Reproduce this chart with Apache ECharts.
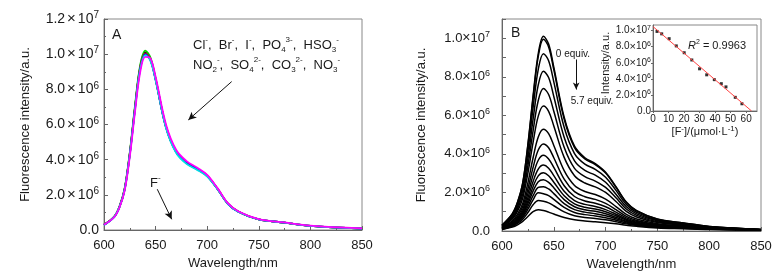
<!DOCTYPE html>
<html>
<head>
<meta charset="utf-8">
<script src="https://cdn.jsdelivr.net/npm/echarts@6/dist/echarts.min.js"></script>
<style>
  html, body { margin: 0; padding: 0; background: #fff; }
  #chart { width: 784px; height: 279px; }
</style>
</head>
<body>
<div id="chart"></div>
<script>
  // wavelength grid (nm), shared by every spectrum
  var wl = [600, 610, 615, 620, 625, 630, 635, 640, 645, 650, 660, 670, 680, 690, 700, 710, 720, 730, 750, 775, 800, 850];

  // panel A: probe + different anions (units of 1e6)
  var aBlack   = [0.30, 0.76, 1.32, 2.32, 4.35, 6.95, 9.25, 10.10, 9.72, 8.58, 5.88, 4.44, 3.84, 3.49, 3.08, 2.34, 1.50, 1.05, 0.60, 0.42, 0.24, 0.08];
  var aGreen   = [0.30, 0.77, 1.34, 2.36, 4.42, 7.05, 9.35, 10.20, 9.80, 8.62, 5.90, 4.45, 3.84, 3.49, 3.08, 2.34, 1.50, 1.05, 0.60, 0.42, 0.24, 0.08];
  var aRed     = [0.30, 0.76, 1.32, 2.32, 4.34, 6.93, 9.22, 10.05, 9.70, 8.57, 5.87, 4.44, 3.84, 3.49, 3.08, 2.34, 1.50, 1.05, 0.60, 0.42, 0.24, 0.08];
  var aBlue    = [0.29, 0.75, 1.31, 2.30, 4.30, 6.88, 9.15, 10.00, 9.66, 8.55, 5.86, 4.42, 3.80, 3.46, 3.06, 2.33, 1.49, 1.04, 0.60, 0.42, 0.24, 0.08];
  var aCyan    = [0.29, 0.75, 1.30, 2.29, 4.28, 6.85, 9.12, 9.95, 9.62, 8.52, 5.82, 4.38, 3.76, 3.43, 3.04, 2.32, 1.49, 1.04, 0.60, 0.42, 0.24, 0.08];
  var aMagenta = [0.30, 0.74, 1.28, 2.24, 4.18, 6.70, 8.95, 9.85, 9.76, 8.72, 6.02, 4.55, 3.92, 3.56, 3.14, 2.38, 1.53, 1.07, 0.62, 0.43, 0.25, 0.09];

  // panel B: titration with F- from 0 to 5.7 equiv. (units of 1e6)
  var b01 = [0.30, 0.90, 1.50, 2.50, 4.50, 7.00, 9.20, 10.10, 9.70, 8.50, 5.90, 4.40, 3.80, 3.50, 3.05, 2.30, 1.50, 1.05, 0.62, 0.42, 0.24, 0.08];
  var b02 = [0.30, 0.89, 1.48, 2.47, 4.44, 6.90, 9.06, 9.95, 9.55, 8.37, 5.81, 4.33, 3.74, 3.45, 3.01, 2.27, 1.48, 1.04, 0.61, 0.42, 0.24, 0.08];
  var b03 = [0.28, 0.83, 1.38, 2.30, 4.13, 6.40, 8.39, 9.20, 8.83, 7.74, 5.38, 4.02, 3.47, 3.20, 2.79, 2.11, 1.38, 0.97, 0.57, 0.39, 0.22, 0.08];
  var b04 = [0.26, 0.76, 1.26, 2.10, 3.75, 5.80, 7.58, 8.29, 7.96, 6.98, 4.86, 3.64, 3.14, 2.90, 2.53, 1.91, 1.26, 0.89, 0.53, 0.36, 0.21, 0.07];
  var b05 = [0.23, 0.69, 1.15, 1.90, 3.38, 5.20, 6.77, 7.39, 7.08, 6.21, 4.34, 3.25, 2.82, 2.59, 2.26, 1.72, 1.14, 0.81, 0.48, 0.33, 0.19, 0.07];
  var b06 = [0.21, 0.62, 1.03, 1.70, 3.00, 4.60, 5.96, 6.48, 6.21, 5.45, 3.82, 2.87, 2.49, 2.29, 2.00, 1.53, 1.02, 0.73, 0.44, 0.30, 0.18, 0.07];
  var b07 = [0.18, 0.53, 0.87, 1.43, 2.50, 3.80, 4.88, 5.28, 5.05, 4.44, 3.13, 2.36, 2.05, 1.89, 1.65, 1.27, 0.86, 0.62, 0.38, 0.26, 0.16, 0.06];
  var b08 = [0.16, 0.47, 0.77, 1.27, 2.19, 3.30, 4.20, 4.52, 4.32, 3.80, 2.69, 2.04, 1.78, 1.64, 1.43, 1.11, 0.76, 0.55, 0.34, 0.24, 0.14, 0.06];
  var b09 = [0.15, 0.42, 0.69, 1.13, 1.94, 2.90, 3.67, 3.93, 3.74, 3.30, 2.35, 1.79, 1.56, 1.44, 1.26, 0.98, 0.68, 0.50, 0.31, 0.22, 0.13, 0.06];
  var b10 = [0.14, 0.38, 0.63, 1.02, 1.73, 2.57, 3.21, 3.42, 3.26, 2.87, 2.06, 1.58, 1.38, 1.27, 1.11, 0.87, 0.61, 0.45, 0.28, 0.20, 0.12, 0.06];
  var b11 = [0.13, 0.35, 0.58, 0.93, 1.56, 2.30, 2.86, 3.02, 2.87, 2.53, 1.83, 1.41, 1.23, 1.14, 1.00, 0.79, 0.56, 0.42, 0.26, 0.19, 0.12, 0.06];
  var b12 = [0.12, 0.33, 0.53, 0.86, 1.42, 2.07, 2.56, 2.66, 2.52, 2.24, 1.63, 1.26, 1.10, 1.02, 0.90, 0.71, 0.51, 0.38, 0.24, 0.17, 0.11, 0.06];
  var b13 = [0.11, 0.30, 0.48, 0.78, 1.27, 1.83, 2.26, 2.30, 2.18, 1.94, 1.42, 1.11, 0.98, 0.90, 0.79, 0.64, 0.47, 0.35, 0.22, 0.16, 0.10, 0.05];
  var b14 = [0.10, 0.27, 0.44, 0.70, 1.13, 1.62, 1.98, 1.93, 1.84, 1.64, 1.22, 0.96, 0.85, 0.78, 0.69, 0.56, 0.42, 0.32, 0.21, 0.15, 0.10, 0.05];
  var b15 = [0.09, 0.24, 0.39, 0.61, 0.96, 1.36, 1.58, 1.54, 1.46, 1.31, 0.99, 0.79, 0.70, 0.65, 0.58, 0.48, 0.37, 0.29, 0.19, 0.14, 0.09, 0.05];
  var b16 = [0.08, 0.20, 0.32, 0.50, 0.75, 1.00, 1.10, 1.06, 0.98, 0.88, 0.70, 0.58, 0.52, 0.48, 0.43, 0.37, 0.30, 0.24, 0.16, 0.12, 0.08, 0.05];

  // inset: peak intensity vs [F-] (umol/L), intensity in 1e6
  var fConc = [2.6, 5.6, 10.4, 15.0, 20.1, 25.0, 30.0, 34.6, 39.5, 44.0, 47.0, 53.0, 57.3];
  var fInt  = [9.9, 9.6, 9.0, 8.1, 7.25, 6.35, 5.25, 4.5, 3.9, 3.4, 3.0, 1.7, 0.9];
  var fitX  = [0, 63.5];
  var fitY  = [10.5, 0];

  var FONT = 'Liberation Sans';
  var AXIS_COLOR = '#666';
  var TEXT_COLOR = '#1a1a1a';

  function pairs(xs, ys) {
    return xs.map(function (x, i) { return [x, ys[i]]; });
  }

  // "2.0×10^6" style labels, values are in 1e6
  function sciLabel(v) {
    if (Math.abs(v) < 1e-9) return '{m|0.0}';
    if (Math.round(v) % 2 !== 0) return '';
    if (v >= 10) return '{m|' + (v / 10).toFixed(1) + '}{x|×}{m|10}{e|7}';
    return '{m|' + v.toFixed(1) + '}{x|×}{m|10}{e|6}';
  }

  function sciRich(size, pad) {
    return {
      m: { fontSize: size, fontFamily: FONT, color: TEXT_COLOR, lineHeight: size + 3 },
      x: { fontSize: size + 1, fontFamily: FONT, color: TEXT_COLOR, lineHeight: size + 3, padding: [0, pad, 0, pad] },
      e: { fontSize: Math.round(size * 0.72), fontFamily: FONT, color: TEXT_COLOR, verticalAlign: 'top', lineHeight: Math.round(size * 0.72) }
    };
  }

  function xAxisCfg(gridIndex, name, min, max, interval, fontSize, nameGap, labelMargin) {
    return {
      type: 'value', gridIndex: gridIndex, min: min, max: max, interval: interval,
      name: name, nameLocation: 'middle', nameGap: nameGap,
      nameTextStyle: { fontFamily: FONT, fontSize: fontSize, color: TEXT_COLOR },
      axisLine: { show: true, lineStyle: { color: AXIS_COLOR, width: 1 } },
      axisTick: { show: true, inside: true, length: 4, lineStyle: { color: AXIS_COLOR } },
      minorTick: { show: true, splitNumber: 2, length: 2, lineStyle: { color: AXIS_COLOR } },
      axisLabel: { fontFamily: FONT, fontSize: fontSize, color: TEXT_COLOR, margin: labelMargin, showMaxLabel: max % interval === 0 },
      splitLine: { show: false }, minorSplitLine: { show: false }
    };
  }

  function yAxisCfg(gridIndex, name, max, interval, fontSize, pad, nameGap, labelMargin, minor) {
    return {
      type: 'value', gridIndex: gridIndex, min: 0, max: max, interval: interval,
      name: name, nameLocation: 'middle', nameGap: nameGap,
      nameTextStyle: { fontFamily: FONT, fontSize: 13, color: TEXT_COLOR },
      axisLine: { show: true, lineStyle: { color: AXIS_COLOR, width: 1 } },
      axisTick: { show: true, inside: true, length: 4, lineStyle: { color: AXIS_COLOR } },
      minorTick: { show: minor, splitNumber: 2, length: 2, lineStyle: { color: AXIS_COLOR } },
      axisLabel: { formatter: sciLabel, rich: sciRich(fontSize, pad), margin: labelMargin, showMaxLabel: Math.abs(max / interval - Math.round(max / interval)) < 1e-9 },
      splitLine: { show: false }, minorSplitLine: { show: false }
    };
  }

  var series = [];

  // panel A curves, magenta last so it sits on top
  var aCurves = [
    [aBlack, '#000000'], [aGreen, '#00d000'], [aRed, '#ff0000'],
    [aBlue, '#0000ff'], [aCyan, '#00e0e0'], [aMagenta, '#ff00ff']
  ];
  aCurves.forEach(function (c) {
    series.push({
      type: 'line', xAxisIndex: 0, yAxisIndex: 0, data: pairs(wl, c[0]),
      smooth: 0.35, showSymbol: false, silent: true,
      lineStyle: { color: c[1], width: 1.8 }
    });
  });

  // arrows in panel A
  series.push({
    type: 'line', xAxisIndex: 0, yAxisIndex: 0, data: [], silent: true,
    markLine: {
      silent: true, symbol: ['none', 'arrow'], symbolSize: [6, 8],
      label: { show: false },
      lineStyle: { color: '#111', width: 1, type: 'solid' },
      data: [
        [{ coord: [723.7, 8.44] }, { coord: [681.7, 6.26] }],
        [{ coord: [651.6, 2.32] }, { coord: [665.6, 0.61] }]
      ]
    }
  });

  // panel B curves
  [b01, b02, b03, b04, b05, b06, b07, b08, b09, b10, b11, b12, b13, b14, b15, b16].forEach(function (arr) {
    series.push({
      type: 'line', xAxisIndex: 1, yAxisIndex: 1, data: pairs(wl, arr),
      smooth: 0.35, showSymbol: false, silent: true,
      lineStyle: { color: '#000', width: 1.5 }
    });
  });

  // arrow 0 -> 5.7 equiv.
  series.push({
    type: 'line', xAxisIndex: 1, yAxisIndex: 1, data: [], silent: true,
    markLine: {
      silent: true, symbol: ['none', 'arrow'], symbolSize: [5, 7],
      label: { show: false },
      lineStyle: { color: '#111', width: 1, type: 'solid' },
      data: [[{ coord: [671.6, 8.9] }, { coord: [671.6, 7.34] }]]
    }
  });

  // inset
  series.push({
    type: 'line', xAxisIndex: 2, yAxisIndex: 2, data: pairs(fitX, fitY),
    showSymbol: false, silent: true, lineStyle: { color: '#ff4040', width: 1 }
  });
  series.push({
    type: 'scatter', xAxisIndex: 2, yAxisIndex: 2, data: pairs(fConc, fInt),
    symbol: 'rect', symbolSize: 3, silent: true, itemStyle: { color: '#000' }
  });

  var gridBase = { show: true, borderColor: '#888', borderWidth: 1, backgroundColor: 'transparent', containLabel: false, outerBoundsMode: 'none' };

  var option = {
    backgroundColor: '#fff',
    animation: false,
    grid: [
      Object.assign({ left: 104, top: 19, width: 258, height: 211 }, gridBase),
      Object.assign({ left: 502, top: 19, width: 259, height: 212 }, gridBase),
      Object.assign({ left: 653, top: 25, width: 104, height: 86 }, gridBase, { backgroundColor: '#fff' })
    ],
    xAxis: [
      xAxisCfg(0, 'Wavelength/nm', 600, 850, 50, 13, 26, 9),
      xAxisCfg(1, 'Wavelength/nm', 600, 850, 50, 13, 26, 9),
      Object.assign(xAxisCfg(2, '', 0, 67, 10, 10, 14, 3), {
        name: '{n|[F}{s|-}{n|]/(μmol·L}{s|-1}{n|)}',
        nameTextStyle: {
          fontFamily: FONT, fontSize: 11, color: TEXT_COLOR,
          rich: {
            n: { fontFamily: FONT, fontSize: 11, color: TEXT_COLOR, lineHeight: 13 },
            s: { fontFamily: FONT, fontSize: 8, color: TEXT_COLOR, verticalAlign: 'top', lineHeight: 7 }
          }
        },
        minorTick: { show: false },
        axisTick: { show: true, inside: false, length: 2, lineStyle: { color: AXIS_COLOR } }
      })
    ],
    yAxis: [
      yAxisCfg(0, 'Fluorescence intensity/a.u.', 12, 2, 14, 2, 72, 5, true),
      yAxisCfg(1, 'Fluorescence intensity/a.u.', 11, 1, 13, 0, 74, 12, false),
      Object.assign(yAxisCfg(2, '', 10.7, 2, 10, 0, 40, 2, false), {
        axisTick: { show: true, inside: false, length: 2, lineStyle: { color: AXIS_COLOR } }
      })
    ],
    series: series,
    graphic: [
      { type: 'text', x: 112, y: 35, silent: true,
        style: { text: 'A', fontFamily: FONT, fontSize: 14, fill: TEXT_COLOR, verticalAlign: 'middle' } },
      { type: 'text', x: 511, y: 33, silent: true,
        style: { text: 'B', fontFamily: FONT, fontSize: 14, fill: TEXT_COLOR, verticalAlign: 'middle' } },
      // inset y-axis title
      { type: 'text', x: 606, y: 63, rotation: Math.PI / 2, silent: true,
        style: { text: 'Intensity/a.u.', fontFamily: FONT, fontSize: 11, fill: TEXT_COLOR, align: 'center', verticalAlign: 'middle' } },
      { type: 'text', x: 193, y: 45, silent: true,
        style: {
          text: '{n|Cl}{p|-}{n|,  Br}{p|-}{n|,  I}{p|-}{n|,  PO}{b|4}{p|3-}{n|,  HSO}{b|3}{p|-}',
          verticalAlign: 'middle',
          rich: {
            n: { fontFamily: FONT, fontSize: 13, fill: TEXT_COLOR, lineHeight: 18 },
            p: { fontFamily: FONT, fontSize: 8, fill: TEXT_COLOR, verticalAlign: 'top', lineHeight: 9 },
            b: { fontFamily: FONT, fontSize: 8, fill: TEXT_COLOR, verticalAlign: 'bottom', lineHeight: 9 }
          }
        } },
      { type: 'text', x: 193, y: 65, silent: true,
        style: {
          text: '{n|NO}{b|2}{p|-}{n|,  SO}{b|4}{p|2-}{n|,  CO}{b|3}{p|2-}{n|,  NO}{b|3}{p|-}',
          verticalAlign: 'middle',
          rich: {
            n: { fontFamily: FONT, fontSize: 13, fill: TEXT_COLOR, lineHeight: 18 },
            p: { fontFamily: FONT, fontSize: 8, fill: TEXT_COLOR, verticalAlign: 'top', lineHeight: 9 },
            b: { fontFamily: FONT, fontSize: 8, fill: TEXT_COLOR, verticalAlign: 'bottom', lineHeight: 9 }
          }
        } },
      { type: 'text', x: 150, y: 183, silent: true,
        style: {
          text: '{n|F}{p|-}', verticalAlign: 'middle',
          rich: {
            n: { fontFamily: FONT, fontSize: 13, fill: TEXT_COLOR, lineHeight: 18 },
            p: { fontFamily: FONT, fontSize: 8, fill: TEXT_COLOR, verticalAlign: 'top', lineHeight: 9 }
          }
        } },
      { type: 'text', x: 573, y: 54, silent: true,
        style: { text: '0 equiv.', fontFamily: FONT, fontSize: 10, fill: TEXT_COLOR, align: 'center', verticalAlign: 'middle' } },
      { type: 'text', x: 592, y: 101, silent: true,
        style: { text: '5.7 equiv.', fontFamily: FONT, fontSize: 10, fill: TEXT_COLOR, align: 'center', verticalAlign: 'middle' } },
      { type: 'text', x: 688, y: 46, silent: true,
        style: {
          text: '{i|R}{p|2}{n| = 0.9963}', verticalAlign: 'middle',
          rich: {
            i: { fontFamily: FONT, fontSize: 11, fontStyle: 'italic', fill: TEXT_COLOR, lineHeight: 14 },
            n: { fontFamily: FONT, fontSize: 11, fill: TEXT_COLOR, lineHeight: 14 },
            p: { fontFamily: FONT, fontSize: 7, fill: TEXT_COLOR, verticalAlign: 'top', lineHeight: 8 }
          }
        } }
    ]
  };

  var chart = echarts.init(document.getElementById('chart'), null, { renderer: 'canvas' });
  chart.setOption(option);
</script>
</body>
</html>
